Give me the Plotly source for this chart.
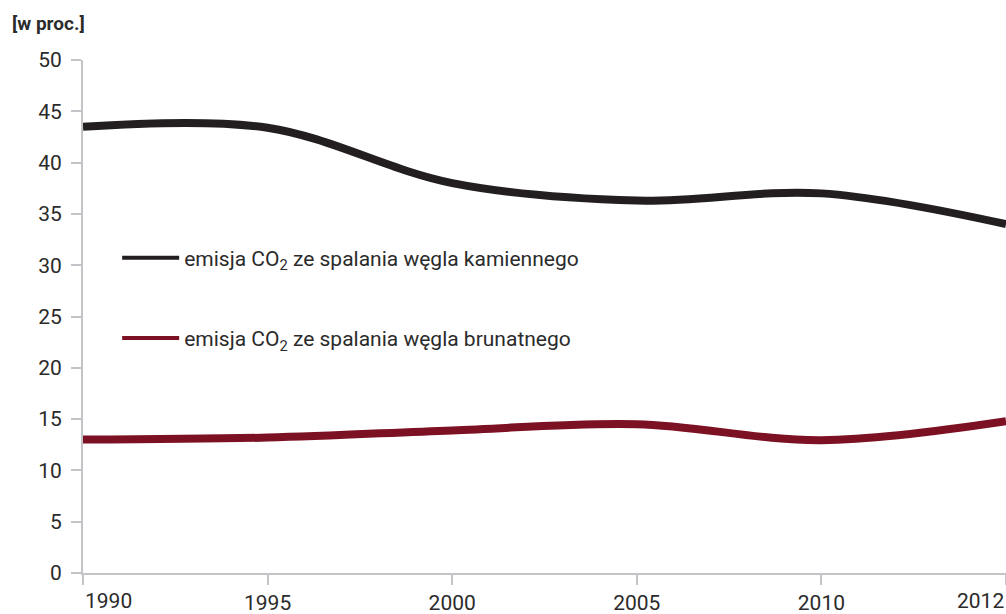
import plotly.graph_objs as go

years = ['1990', '1995', '2000', '2005', '2010', '2012']
kamienny = [43.5, 43.4, 38.0, 36.3, 37.0, 34.0]
brunatny = [13.0, 13.2, 13.9, 14.5, 12.95, 14.8]

name_k = 'emisja CO<sub>2</sub> ze spalania węgla kamiennego'
name_b = 'emisja CO<sub>2</sub> ze spalania węgla brunatnego'

font = 'Roboto, "Noto Sans", sans-serif'
axis_col = '#c4c4c8'
col_k = '#231f20'
col_b = '#7d1124'

fig = go.Figure()
fig.add_trace(go.Scatter(x=years, y=kamienny, name=name_k, mode='lines',
                         line=dict(color=col_k, width=8, shape='spline'),
                         showlegend=False))
fig.add_trace(go.Scatter(x=years, y=brunatny, name=name_b, mode='lines',
                         line=dict(color=col_b, width=8, shape='spline'),
                         showlegend=False))
# legend entries with thinner key lines
fig.add_trace(go.Scatter(x=[None], y=[None], name=name_k, mode='lines',
                         line=dict(color=col_k, width=4), legendgroup='k'))
fig.add_trace(go.Scatter(x=[None], y=[None], name=name_b, mode='lines',
                         line=dict(color=col_b, width=4), legendgroup='b'))

fig.update_layout(
    width=1006, height=614,
    margin=dict(l=83, r=0, t=60, b=41),
    plot_bgcolor='white', paper_bgcolor='white',
    font=dict(family=font, size=21, color='#2b2b2b'),
    showlegend=True,
    legend=dict(x=0.037, y=0.536, xanchor='left', yanchor='middle',
                bgcolor='rgba(0,0,0,0)', itemwidth=57,
                tracegroupgap=50, font=dict(size=21),
                itemclick=False),
    xaxis=dict(type='category', range=[0, 5], showgrid=False,
               showline=True, linecolor=axis_col, linewidth=2,
               ticks='outside', ticklen=10, tickcolor=axis_col, tickwidth=2,
               tickvals=years, ticktext=['', '1995', '2000', '2005', '2010', ''],
               automargin=False, fixedrange=True),
    yaxis=dict(range=[0, 50], dtick=5, showgrid=False, zeroline=False,
               showline=True, linecolor=axis_col, linewidth=2,
               ticks='outside', ticklen=10, tickcolor=axis_col, tickwidth=2,
               ticklabelstandoff=5,
               automargin=False, fixedrange=True),
    annotations=[
        dict(text='<b>[w proc.]</b>', xref='paper', yref='paper', x=-0.079, y=1.045,
             xanchor='left', yanchor='bottom', showarrow=False,
             font=dict(size=19, color='#2b2b2b')),
        dict(text=years[0], xref='paper', yref='paper', x=0, y=0,
             xanchor='left', yanchor='top', yshift=-14, showarrow=False),
        dict(text=years[-1], xref='paper', yref='paper', x=1, y=0,
             xanchor='right', yanchor='top', yshift=-14, showarrow=False),
    ],
)

# page without default body margin so the figure sits at the top-left corner
fig.write_html("out.html", config={'displayModeBar': False},
               post_script="document.body.style.margin='0';document.body.style.overflow='hidden';")
